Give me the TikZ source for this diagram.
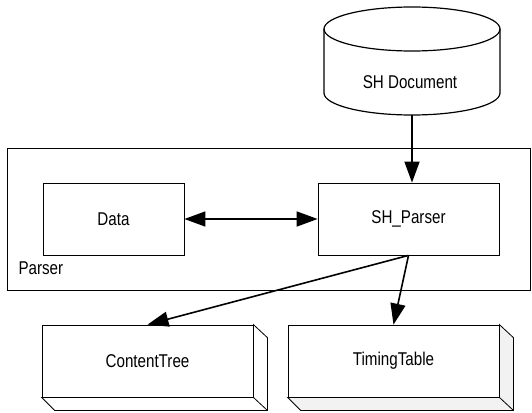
\documentclass[tikz,border=0pt]{standalone}
\usepackage{fontspec}
\setmainfont{Liberation Sans}[FakeStretch=0.82]
\usetikzlibrary{arrows.meta,calc}
\tikzset{
  box/.style={draw,line width=0.8pt,minimum height=72pt,inner sep=0pt},
  flow/.style={line width=1.6pt,-{Triangle[length=21pt,width=15pt]}},
}
\begin{document}
\begin{tikzpicture}[x=1pt,y=-1pt,font=\fontsize{18.5}{21}\selectfont]
\useasboundingbox (0,0) rectangle (532,412);
% document store
\draw[line width=1.2pt] (412,29) ellipse [x radius=88pt,y radius=22pt];
\draw[line width=1.2pt] (324,29) -- (324,93) arc[start angle=180,end angle=360,x radius=88pt,y radius=22pt] -- (500,29);
\node (doc) at (410,82) {SH Document};
\coordinate (docbase) at (412,115);
% parser frame
\node[box,minimum width=523pt,minimum height=142pt] (frame) at (268.5,219) {};
\node[anchor=west] (plabel) at (15,268) {Parser};
\node[box,minimum width=141pt] (data) at (113.5,219) {Data};
\node[box,minimum width=181pt] (parser) at (408.5,219) {SH\_Parser};
% outputs
\node[box,minimum width=211pt] (ct) at (147.5,361) {ContentTree};
\node[box,minimum width=211pt] (tt) at (393.5,361) {TimingTable};
\foreach \b/\f in {ct/white,tt/gray!10}{
  \draw[line width=0.8pt,fill=\f] (\b.south west) -- ++(13,13) -| ($(\b.north east)+(14,13)$) -- (\b.north east) -- (\b.south east) -- cycle;
  \draw[line width=0.8pt] (\b.south east) -- ++(14,13);
}
\draw[flow] (docbase) -- (docbase |- parser.north);
\draw[flow,{Triangle[length=21pt,width=15pt]}-{Triangle[length=21pt,width=15pt]}] (data) -- (parser);
\draw[flow] (parser.south) -- (ct.north);
\draw[flow] (parser.south) -- (tt.north);
\end{tikzpicture}
\end{document}
